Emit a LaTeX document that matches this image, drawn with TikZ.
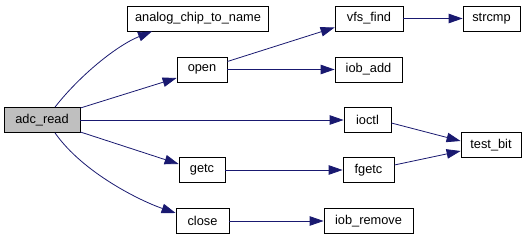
\documentclass[tikz,border=0pt]{standalone}
\usepackage{fontspec}
\setmainfont{Liberation Sans}
\usetikzlibrary{arrows.meta}

\definecolor{edgeblue}{HTML}{191970}
\definecolor{rootgray}{HTML}{BFBFBF}

\begin{document}
\begin{tikzpicture}[
  x=1pt, y=-1pt,
  every node/.style={font=\fontsize{12.8}{14}\selectfont},
  fn/.style={draw, rectangle, minimum height=25pt, inner sep=2pt, line width=0.8pt},
  root/.style={fn, fill=rootgray},
  arr/.style={-{Triangle[length=14pt,width=9.5pt]}, edgeblue, line width=0.8pt}
]
\useasboundingbox (0,0) rectangle (532,240);

% caller
\node[root, minimum width=76pt] (adcread) at (42,120) {adc\_read};

% first level
\node[fn, minimum width=141pt] (chipname) at (198,18.5) {analog\_chip\_to\_name};
\node[fn, minimum width=50pt]  (open)     at (202,69.5) {open};
\node[fn, minimum width=47pt]  (ioctl)    at (367.5,120) {ioctl};
\node[fn, minimum width=46pt]  (getc)     at (202,170) {getc};
\node[fn, minimum width=53pt]  (close)    at (202.5,221) {close};

% second level
\node[fn, minimum width=68pt] (vfsfind)   at (369,18.5) {vfs\_find};
\node[fn, minimum width=67pt] (iobadd)    at (368.5,69.5) {iob\_add};
\node[fn, minimum width=51pt] (fgetc)     at (368.5,170) {fgetc};
\node[fn, minimum width=89pt] (iobremove) at (368.5,221) {iob\_remove};

% third level
\node[fn, minimum width=57pt] (strcmp)  at (491.5,18.5) {strcmp};
\node[fn, minimum width=60pt] (testbit) at (491,145) {test\_bit};

\draw[arr] ([xshift=13pt]adcread.north) .. controls +(25,-32) and +(-35,14) .. ([xshift=-46pt]chipname.south);
\draw[arr] ([yshift=12pt]adcread.east) -- ([yshift=-8.5pt]open.west);
\draw[arr] (adcread.east) -- (ioctl.west);
\draw[arr] ([yshift=-12pt]adcread.east) -- ([yshift=6pt]getc.west);
\draw[arr] ([xshift=13pt]adcread.south) .. controls +(28,40) and +(-35,-12) .. ([yshift=8pt]close.west);

\draw[arr] ([yshift=8pt]open.east) -- ([yshift=-9pt]vfsfind.west);
\draw[arr] (open) -- (iobadd);
\draw[arr] (getc) -- (fgetc);
\draw[arr] (close) -- (iobremove);

\draw[arr] (vfsfind) -- (strcmp);
\draw[arr] ([yshift=-3pt]ioctl.east) -- ([yshift=4pt]testbit.west);
\draw[arr] ([yshift=5pt]fgetc.east) -- ([yshift=-6pt]testbit.west);
\end{tikzpicture}
\end{document}
